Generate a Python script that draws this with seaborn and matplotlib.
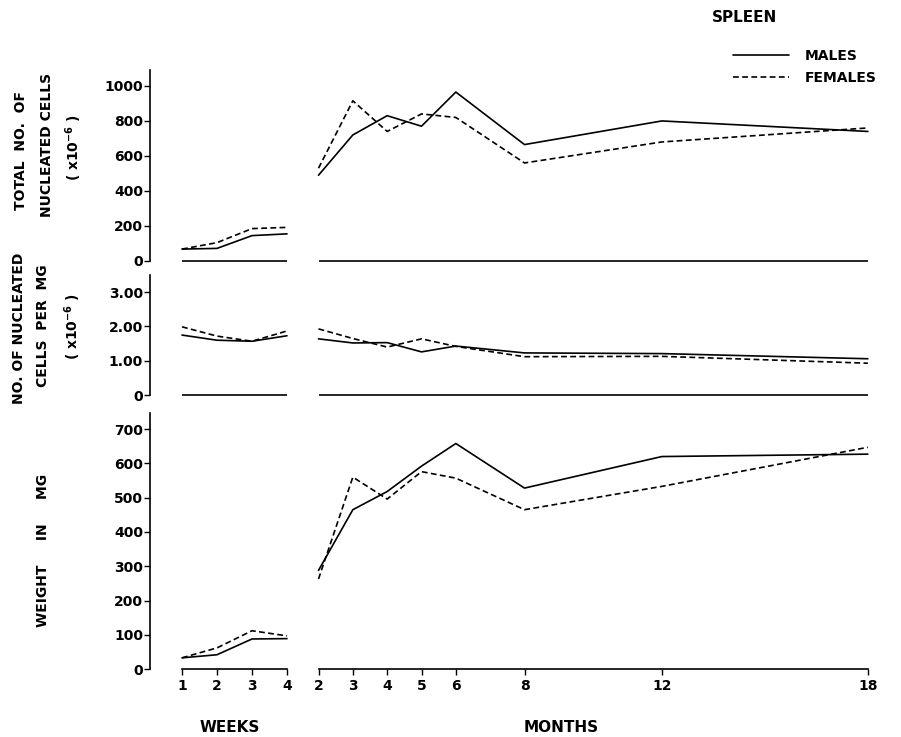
import pandas as pd
import seaborn as sns
import matplotlib.pyplot as plt

# Spleen data
weeks = [1, 2, 3, 4]
months = [2, 3, 4, 5, 6, 8, 12, 18]

cells_males_wk = [68, 72, 145, 155]
cells_females_wk = [68, 105, 185, 192]
cells_males_mo = [490, 720, 830, 770, 965, 665, 800, 740]
cells_females_mo = [530, 915, 740, 840, 820, 560, 680, 760]

permg_males_wk = [1.75, 1.60, 1.57, 1.73]
permg_females_wk = [1.99, 1.72, 1.57, 1.87]
permg_males_mo = [1.64, 1.52, 1.53, 1.26, 1.43, 1.23, 1.21, 1.06]
permg_females_mo = [1.93, 1.65, 1.40, 1.64, 1.42, 1.12, 1.13, 0.93]

weight_males_wk = [33, 42, 88, 89]
weight_females_wk = [33, 62, 112, 97]
weight_males_mo = [288, 465, 518, 592, 658, 528, 620, 627]
weight_females_mo = [263, 560, 496, 576, 557, 465, 533, 647]

cells_ticks = [0, 200, 400, 600, 800, 1000]
permg_ticks = [0, 1, 2, 3]
permg_ticklabels = ['0', '1.00', '2.00', '3.00']
weight_ticks = [0, 100, 200, 300, 400, 500, 600, 700]

sns.set_style('white')
plt.rcParams['font.family'] = ['DejaVu Sans']
plt.rcParams['font.weight'] = 'bold'
plt.rcParams['text.color'] = 'black'
plt.rcParams['xtick.color'] = 'black'
plt.rcParams['ytick.color'] = 'black'

W, H = 901, 737
fig = plt.figure(figsize=(W / 100, H / 100), dpi=100)


def rect(left, right, top, bottom):
    return [left / W, 1 - bottom / H, (right - left) / W, (bottom - top) / H]


def frame(x, males, females):
    return pd.DataFrame({'x': list(x) * 2,
                         'value': list(males) + list(females),
                         'sex': ['MALES'] * len(x) + ['FEMALES'] * len(x)})


dashes = {'MALES': '', 'FEMALES': (3.5, 2)}

# (week data, month data, ylim, ticks, ticklabels, top px, bottom px)
panels = [
    ((cells_males_wk, cells_females_wk), (cells_males_mo, cells_females_mo),
     (-40, 1091), cells_ticks, [str(t) for t in cells_ticks], 70, 268),
    ((permg_males_wk, permg_females_wk), (permg_males_mo, permg_females_mo),
     (-0.2, 3.5), permg_ticks, permg_ticklabels, 275, 402),
    ((weight_males_wk, weight_females_wk), (weight_males_mo, weight_females_mo),
     (-20, 747), weight_ticks, [str(t) for t in weight_ticks], 413, 676),
]

handles = labels = None
for i, (wk, mo, ylim, ticks, ticklabels, top, bottom) in enumerate(panels):
    last = i == len(panels) - 1
    ax_w = fig.add_axes(rect(150, 300, top, bottom))
    ax_m = fig.add_axes(rect(300, 885, top, bottom))
    for ax, xs, (m, f), xlim in [(ax_w, weeks, wk, (0.086, 4.371)),
                                 (ax_m, months, mo, (1.461, 18.5))]:
        sns.lineplot(data=frame(xs, m, f), x='x', y='value', style='sex',
                     dashes=dashes, color='black', linewidth=1.2, ax=ax,
                     legend=(i == 0 and ax is ax_m))
        ax.set_xlim(*xlim)
        ax.set_ylim(*ylim)
        ax.set_xlabel('')
        ax.set_ylabel('')
        ax.patch.set_alpha(0)
        for s in ['top', 'right', 'left', 'bottom']:
            ax.spines[s].set_visible(False)
        if last:
            ax.spines['bottom'].set_visible(True)
            ax.spines['bottom'].set_position(('data', 0))
            ax.spines['bottom'].set_bounds(xs[0], xs[-1])
            ax.spines['bottom'].set_color('black')
            ax.spines['bottom'].set_linewidth(1.2)
            ax.set_xticks(xs)
            ax.set_xticklabels([str(x) for x in xs])
            ax.tick_params(axis='x', bottom=True, direction='out', length=4,
                           width=1, pad=3, labelsize=10, colors='black')
        else:
            ax.hlines(0, xs[0], xs[-1], color='black', linewidth=1.2)
            ax.set_xticks([])
        ax.set_yticks([])
    if i == 0:
        handles, labels = ax_m.get_legend_handles_labels()
        ax_m.get_legend().remove()
    ax_w.spines['left'].set_visible(True)
    ax_w.spines['left'].set_bounds(0, ylim[1])
    ax_w.spines['left'].set_color('black')
    ax_w.spines['left'].set_linewidth(1.2)
    ax_w.set_yticks(ticks)
    ax_w.set_yticklabels(ticklabels)
    ax_w.tick_params(axis='y', left=True, direction='out', length=4, width=1,
                     pad=1, labelsize=10, colors='black')

# y axis titles
kw = dict(rotation=90, ha='center', va='center', fontsize=10, fontweight='bold')
fig.text(21 / W, 1 - 151 / H, 'TOTAL  NO.  OF', **kw)
fig.text(47 / W, 1 - 145 / H, 'NUCLEATED CELLS', **kw)
fig.text(74 / W, 1 - 148 / H, '( x10$^{-6}$ )', **kw)
fig.text(19 / W, 1 - 328 / H, 'NO. OF NUCLEATED', **kw)
fig.text(43 / W, 1 - 326 / H, 'CELLS  PER  MG', **kw)
fig.text(73 / W, 1 - 327 / H, '( x10$^{-6}$ )', **kw)
fig.text(43 / W, 1 - 550 / H, 'WEIGHT     IN     MG', **kw)

fig.text(230 / W, 1 - 727 / H, 'WEEKS', ha='center', va='center', fontsize=11)
fig.text(561 / W, 1 - 728 / H, 'MONTHS', ha='center', va='center', fontsize=11)

fig.text(712 / W, 1 - 17 / H, 'SPLEEN', ha='left', va='center', fontsize=11)
fig.legend(handles, labels, loc='upper left', bbox_to_anchor=(733 / W, 1 - 49 / H),
           frameon=False, fontsize=10, handlelength=4.0, handletextpad=1.2,
           labelspacing=0.55, borderpad=0, borderaxespad=0)

fig.savefig('out.png', dpi=100)
